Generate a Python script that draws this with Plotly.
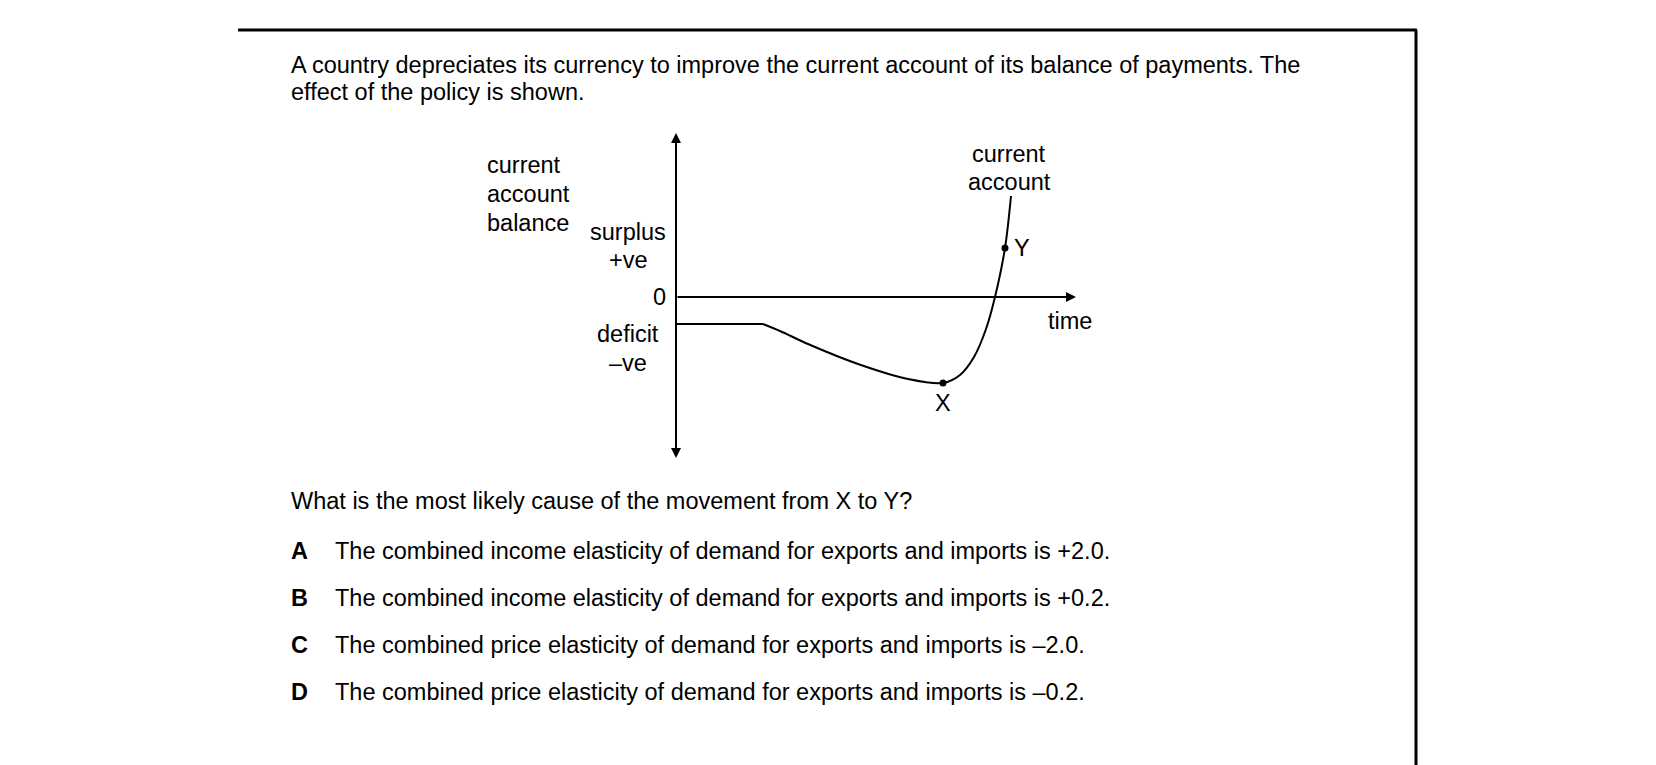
import plotly.graph_objects as go

# diagram data (time units, balance units)
curve_t = [0, 2.175, 2.6, 3.3, 4.55, 5.8, 6.675, 7.1, 7.45, 7.75, 7.975, 8.225, 8.375]
curve_b = [-0.675, -0.675, -0.85, -1.175, -1.675, -2.05, -2.15, -1.95, -1.5, -0.8, 0, 1.225, 2.525]
points_t = [6.675, 8.225]
points_b = [-2.15, 1.225]
point_labels = ["X", "Y"]

title_lines = ["A country depreciates its currency to improve the current account of its balance of payments. The",
               "effect of the policy is shown."]
question = "What is the most likely cause of the movement from X to Y?"
options = [("A", "The combined income elasticity of demand for exports and imports is +2.0."),
           ("B", "The combined income elasticity of demand for exports and imports is +0.2."),
           ("C", "The combined price elasticity of demand for exports and imports is \u20132.0."),
           ("D", "The combined price elasticity of demand for exports and imports is \u20130.2.")]

W, H = 1656, 765
F = "Liberation Sans, Arial, sans-serif"
FS = 23.5
fig = go.Figure()
fig.add_trace(go.Scatter(x=curve_t[:2], y=curve_b[:2], mode="lines", line=dict(color="black", width=2)))
fig.add_trace(go.Scatter(x=curve_t[1:], y=curve_b[1:], mode="lines", line=dict(color="black", width=2, shape="spline", smoothing=0.9)))
fig.add_trace(go.Scatter(x=points_t, y=points_b, mode="markers", marker=dict(color="black", size=7)))

x0, x1 = 668 / W, 1068 / W
y0, y1 = 1 - 450 / H, 1 - 125 / H
fig.update_layout(
    width=W, height=H, margin=dict(l=0, r=0, t=0, b=0), showlegend=False,
    plot_bgcolor="white", paper_bgcolor="white",
    xaxis=dict(domain=[x0, x1], range=[0, 10], visible=False),
    yaxis=dict(domain=[y0, y1], range=[-4.025, 4.1], visible=False),
)
for (ax, ay, x, y) in [(0, -3.9, 0, 4.1), (0, 3.9, 0, -4.025), (0, 0, 10, 0)]:
    fig.add_annotation(x=x, y=y, ax=ax, ay=ay, xref="x", yref="y", axref="x", ayref="y",
                       showarrow=True, arrowhead=2, arrowsize=1, arrowwidth=2, arrowcolor="black", text="")
fig.add_shape(type="line", x0=0, x1=0, y0=-3.9, y1=3.9, xref="x", yref="y", line=dict(color="black", width=2))

def txt(px, py, s, anchor="left", bold=False, size=FS):
    fig.add_annotation(x=px / W, y=1 - py / H, xref="paper", yref="paper", text=("<b>%s</b>" % s) if bold else s,
                       showarrow=False, xanchor=anchor, yanchor="middle", font=dict(family=F, size=size, color="black"))

txt(281, 57, title_lines[0]); txt(281, 84, title_lines[1])
txt(281, 493, question)
for i, (l, s) in enumerate(options):
    py = 543 + i * 47
    txt(281, py, l, bold=True); txt(325, py, s)
for i, s in enumerate(["current", "account", "balance"]):
    txt(477, 157 + i * 29, s)
txt(660, 224, "surplus", "right"); txt(620, 252, "+ve", "center")
txt(660, 289, "0", "right")
txt(620, 326, "deficit", "center"); txt(620, 355, "\u2013ve", "center")
txt(1001, 146, "current", "center"); txt(1001, 174, "account", "center")
txt(1038, 313, "time")
fig.add_annotation(x=points_t[0], y=points_b[0], text=point_labels[0], showarrow=False, yshift=-20, font=dict(family=F, size=FS, color="black"))
fig.add_annotation(x=points_t[1], y=points_b[1], text=point_labels[1], showarrow=False, xshift=17, font=dict(family=F, size=FS, color="black"))

fig.add_shape(type="line", xref="paper", yref="paper", x0=230 / W, x1=1409 / W, y0=1 - 22 / H, y1=1 - 22 / H, line=dict(color="black", width=3))
fig.add_shape(type="line", xref="paper", yref="paper", x0=1408 / W, x1=1408 / W, y0=1 - 22 / H, y1=0, line=dict(color="black", width=3))
fig.write_html("out.html")
